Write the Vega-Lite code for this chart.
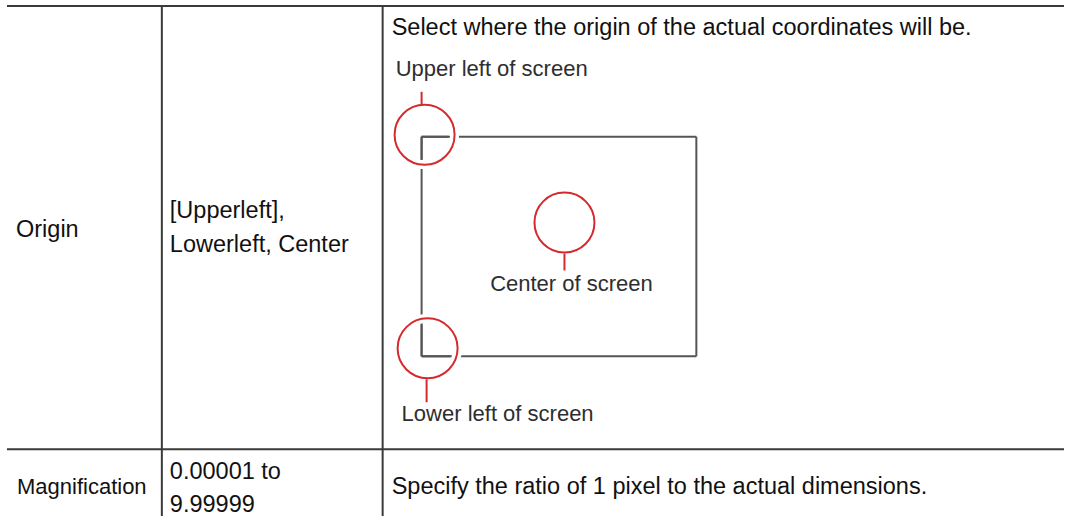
{
  "$schema": "https://vega.github.io/schema/vega-lite/v6.json",
  "autosize": {"type": "fit", "contains": "padding"},
  "width": 1065,
  "height": 517,
  "padding": 0,
  "background": "white",
  "config": {"view": {"stroke": null}},
  "layer": [
    {
      "data": {"values": [
        {"x": 7, "y": 6, "x2": 1065, "y2": 6},
        {"x": 7, "y": 450, "x2": 1065, "y2": 450},
        {"x": 162, "y": 6, "x2": 162, "y2": 517},
        {"x": 383, "y": 6, "x2": 383, "y2": 517}
      ]},
      "mark": {"type": "rule", "stroke": "#3a3a3a", "strokeWidth": 2},
      "encoding": {
        "x": {"field": "x", "type": "quantitative", "scale": {"domain": [0, 1065], "nice": false, "zero": false}, "axis": null},
        "y": {"field": "y", "type": "quantitative", "scale": {"domain": [0, 517], "nice": false, "zero": false, "reverse": true}, "axis": null},
        "x2": {"field": "x2"},
        "y2": {"field": "y2"}
      }
    },
    {
      "data": {"values": [
        {"x": 422, "y": 137, "x2": 697, "y2": 137},
        {"x": 697, "y": 137, "x2": 697, "y2": 357},
        {"x": 422, "y": 357, "x2": 697, "y2": 357},
        {"x": 422, "y": 137, "x2": 422, "y2": 357}
      ]},
      "mark": {"type": "rule", "stroke": "#555555", "strokeWidth": 2},
      "encoding": {
        "x": {"field": "x", "type": "quantitative"},
        "y": {"field": "y", "type": "quantitative"},
        "x2": {"field": "x2"},
        "y2": {"field": "y2"}
      }
    },
    {
      "data": {"values": [
        {"x": 425, "y": 135},
        {"x": 565, "y": 223},
        {"x": 428, "y": 349}
      ]},
      "mark": {"type": "point", "shape": "circle", "filled": false, "stroke": "white", "strokeWidth": 9, "size": 3600, "opacity": 1},
      "encoding": {
        "x": {"field": "x", "type": "quantitative"},
        "y": {"field": "y", "type": "quantitative"}
      }
    },
    {
      "data": {"values": [
        {"x": 422, "y": 137, "x2": 449, "y2": 137},
        {"x": 422, "y": 137, "x2": 422, "y2": 160},
        {"x": 422, "y": 325, "x2": 422, "y2": 357},
        {"x": 422, "y": 357, "x2": 451, "y2": 357}
      ]},
      "mark": {"type": "rule", "stroke": "#555555", "strokeWidth": 2},
      "encoding": {
        "x": {"field": "x", "type": "quantitative"},
        "y": {"field": "y", "type": "quantitative"},
        "x2": {"field": "x2"},
        "y2": {"field": "y2"}
      }
    },
    {
      "data": {"values": [
        {"x": 422, "y": 92, "x2": 422, "y2": 105},
        {"x": 565, "y": 254, "x2": 565, "y2": 271},
        {"x": 427, "y": 380, "x2": 427, "y2": 403}
      ]},
      "mark": {"type": "rule", "stroke": "#d42a2e", "strokeWidth": 2},
      "encoding": {
        "x": {"field": "x", "type": "quantitative"},
        "y": {"field": "y", "type": "quantitative"},
        "x2": {"field": "x2"},
        "y2": {"field": "y2"}
      }
    },
    {
      "data": {"values": [
        {"x": 425, "y": 135},
        {"x": 565, "y": 223},
        {"x": 428, "y": 349}
      ]},
      "mark": {"type": "point", "shape": "circle", "filled": false, "stroke": "#d42a2e", "strokeWidth": 2, "size": 3600, "opacity": 1},
      "encoding": {
        "x": {"field": "x", "type": "quantitative"},
        "y": {"field": "y", "type": "quantitative"}
      }
    },
    {
      "data": {"values": [
        {"x": 16, "y": 237, "t": "Origin"},
        {"x": 170, "y": 218, "t": "[Upperleft],"},
        {"x": 170, "y": 252, "t": "Lowerleft, Center"},
        {"x": 392, "y": 35, "t": "Select where the origin of the actual coordinates will be."},
        {"x": 170, "y": 480, "t": "0.00001 to"},
        {"x": 170, "y": 513, "t": "9.99999"},
        {"x": 392, "y": 495, "t": "Specify the ratio of 1 pixel to the actual dimensions."}
      ]},
      "mark": {"type": "text", "align": "left", "baseline": "alphabetic", "font": "Liberation Sans", "fontSize": 23.5, "fill": "#111111"},
      "encoding": {
        "x": {"field": "x", "type": "quantitative"},
        "y": {"field": "y", "type": "quantitative"},
        "text": {"field": "t"}
      }
    },
    {
      "data": {"values": [
        {"x": 17, "y": 495, "t": "Magnification"}
      ]},
      "mark": {"type": "text", "align": "left", "baseline": "alphabetic", "font": "Liberation Sans", "fontSize": 22, "fill": "#111111"},
      "encoding": {
        "x": {"field": "x", "type": "quantitative"},
        "y": {"field": "y", "type": "quantitative"},
        "text": {"field": "t"}
      }
    },
    {
      "data": {"values": [
        {"x": 396, "y": 76, "t": "Upper left of screen"},
        {"x": 402, "y": 422, "t": "Lower left of screen"}
      ]},
      "mark": {"type": "text", "align": "left", "baseline": "alphabetic", "font": "Liberation Sans", "fontSize": 22, "fill": "#2e2e2e"},
      "encoding": {
        "x": {"field": "x", "type": "quantitative"},
        "y": {"field": "y", "type": "quantitative"},
        "text": {"field": "t"}
      }
    },
    {
      "data": {"values": [
        {"x": 572, "y": 292, "t": "Center of screen"}
      ]},
      "mark": {"type": "text", "align": "center", "baseline": "alphabetic", "font": "Liberation Sans", "fontSize": 22, "fill": "#2e2e2e"},
      "encoding": {
        "x": {"field": "x", "type": "quantitative"},
        "y": {"field": "y", "type": "quantitative"},
        "text": {"field": "t"}
      }
    }
  ]
}
